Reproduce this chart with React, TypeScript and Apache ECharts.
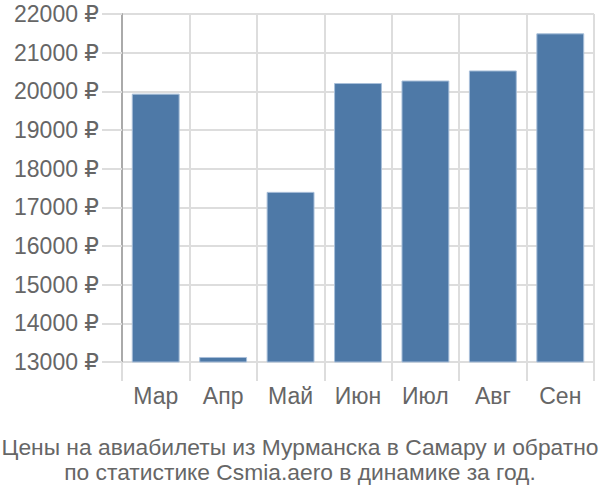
import React, { useEffect, useRef } from "react";
import * as echarts from "echarts";

const months = ["Мар", "Апр", "Май", "Июн", "Июл", "Авг", "Сен"];
const prices = [19940, 13130, 17400, 20215, 20280, 20540, 21500];
const yTicks = { min: 13000, max: 22000, interval: 1000 };
const titleLines = [
  "Цены на авиабилеты из Мурманска в Самару и обратно",
  "по статистике Csmia.aero в динамике за год.",
];

export default function App() {
  const ref = useRef<HTMLDivElement>(null);
  useEffect(() => {
    if (!ref.current) return;
    document.body.style.margin = "0";
    const chart = echarts.init(ref.current, null, { renderer: "svg" });
    const font = "'Liberation Sans', Arial, 'DejaVu Sans', sans-serif";
    chart.setOption({
      animation: false,
      textStyle: { fontFamily: font },
      title: {
        text: titleLines.join("\n"),
        left: "center",
        top: 429,
        textStyle: {
          fontFamily: font,
          fontSize: 22.8,
          fontWeight: "normal",
          color: "#666",
          lineHeight: 25,
        },
      },
      grid: { left: 122, right: 6, top: 14, bottom: 138, containLabel: false },
      xAxis: {
        type: "category",
        data: months,
        boundaryGap: true,
        axisLine: { show: false },
        axisTick: { show: true, length: 19, lineStyle: { color: "#ddd", width: 2 } },
        splitLine: { show: true, lineStyle: { color: "#ddd", width: 2 } },
        axisLabel: { color: "#666", fontSize: 23, margin: 22, fontFamily: font },
      },
      yAxis: {
        type: "value",
        min: yTicks.min,
        max: yTicks.max,
        interval: yTicks.interval,
        axisLine: { show: true, lineStyle: { color: "#aaa", width: 2 } },
        axisTick: { show: true, length: 20, lineStyle: { color: "#ddd", width: 2 } },
        splitLine: { show: true, lineStyle: { color: "#ddd", width: 2 } },
        axisLabel: {
          color: "#666",
          fontSize: 23,
          margin: 23,
          fontFamily: font,
          formatter: (v: number) => `${v} ₽`,
        },
      },
      series: [
        {
          type: "bar",
          data: prices,
          barCategoryGap: "29%",
          itemStyle: { color: "#4e79a7", borderColor: "#a8bfd9", borderWidth: 1 },
        },
      ],
    });
    return () => chart.dispose();
  }, []);
  return <div ref={ref} style={{ width: 600, height: 500 }} />;
}
